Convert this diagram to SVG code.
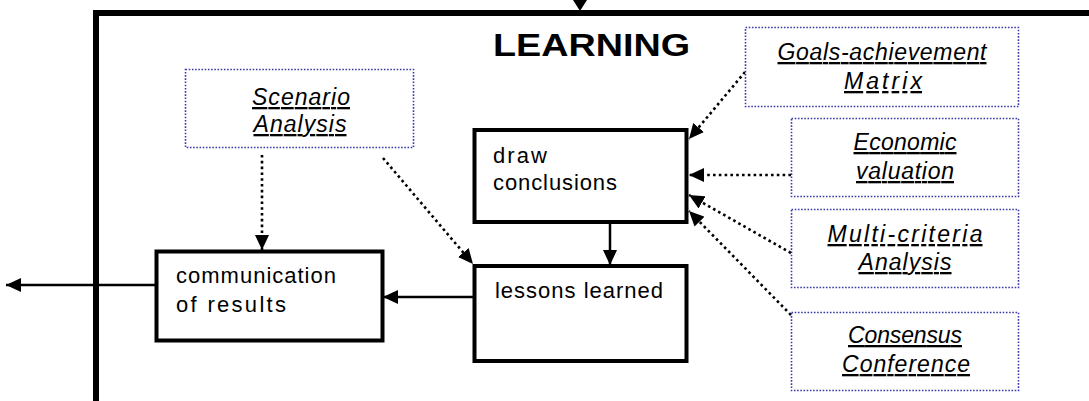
<svg xmlns="http://www.w3.org/2000/svg" width="1089" height="401" viewBox="0 0 1089 401">
<defs>
<style>
.box{fill:#fff;stroke:#000;stroke-width:4}
.tool{fill:#fff;stroke:#3a3aa8;stroke-width:1.6;stroke-dasharray:1.6 1.6}
.t{font-family:"Comic Sans MS","Liberation Sans",Arial,sans-serif;font-size:22px;fill:#000}
.u{font-family:"Comic Sans MS","Liberation Sans",Arial,sans-serif;font-size:23px;font-style:italic;text-decoration:underline;fill:#000;text-anchor:middle}
.title{font-family:"Comic Sans MS","Liberation Sans",Arial,sans-serif;font-size:32px;font-weight:bold;fill:#000}
.solid{fill:none;stroke:#000;stroke-width:2.5}
.dot{fill:none;stroke:#000;stroke-width:2.6;stroke-dasharray:2.6 3.2}
</style>
<marker id="ah" markerUnits="userSpaceOnUse" markerWidth="16" markerHeight="14" refX="15" refY="7" orient="auto">
<path d="M0,0 L15,7 L0,14 Z" fill="#000"/>
</marker>
</defs>
<g id="frame">
<line x1="93" y1="13" x2="1089" y2="13" stroke="#000" stroke-width="6"/>
<line x1="96" y1="10" x2="96" y2="401" stroke="#000" stroke-width="6"/>
<polygon points="573,0 587,0 580,11" fill="#000"/>
<text class="title" x="493" y="56" textLength="197" lengthAdjust="spacingAndGlyphs">LEARNING</text>
</g>
<g id="connectors">
<line class="solid" x1="156" y1="285" x2="6" y2="285" marker-end="url(#ah)"/>
<line class="solid" x1="474" y1="297" x2="383" y2="297" marker-end="url(#ah)"/>
<line class="solid" x1="610" y1="222" x2="610" y2="265" marker-end="url(#ah)"/>
<line class="dot" x1="262" y1="155" x2="262" y2="250" marker-end="url(#ah)"/>
<line class="dot" x1="383" y1="158" x2="473" y2="264" marker-end="url(#ah)"/>
<line class="dot" x1="745" y1="72" x2="689" y2="139" marker-end="url(#ah)"/>
<line class="dot" x1="791" y1="175" x2="689" y2="175" marker-end="url(#ah)"/>
<line class="dot" x1="791" y1="253" x2="689" y2="195" marker-end="url(#ah)"/>
<line class="dot" x1="791" y1="315" x2="689" y2="211" marker-end="url(#ah)"/>
</g>
<g id="communication">
<rect class="box" x="156.5" y="251.5" width="226" height="89"/>
<text class="t" x="176" y="283" textLength="160" lengthAdjust="spacing">communication</text>
<text class="t" x="176" y="312" textLength="110" lengthAdjust="spacing">of results</text>
</g>
<g id="lessons">
<rect class="box" x="474.5" y="266" width="212" height="95"/>
<text class="t" x="495" y="298" textLength="168" lengthAdjust="spacing">lessons learned</text>
</g>
<g id="draw">
<rect class="box" x="474.5" y="130" width="212" height="92"/>
<text class="t" x="493" y="163" textLength="54" lengthAdjust="spacing">draw</text>
<text class="t" x="493" y="190" textLength="124" lengthAdjust="spacing">conclusions</text>
</g>
<g id="scenario">
<rect class="tool" x="185.5" y="69.5" width="228" height="78"/>
<text class="u" x="301" y="105" textLength="98" lengthAdjust="spacing">Scenario</text>
<text class="u" x="300" y="132" textLength="93" lengthAdjust="spacing">Analysis</text>
</g>
<g id="goals">
<rect class="tool" x="745.5" y="27.5" width="273" height="79"/>
<text class="u" x="882" y="60" textLength="209" lengthAdjust="spacing">Goals-achievement</text>
<text class="u" x="883" y="89" textLength="78" lengthAdjust="spacing">Matrix</text>
</g>
<g id="economic">
<rect class="tool" x="791.5" y="118.5" width="227" height="78"/>
<text class="u" x="905" y="150" textLength="103" lengthAdjust="spacing">Economic</text>
<text class="u" x="905" y="179" textLength="98" lengthAdjust="spacing">valuation</text>
</g>
<g id="multicriteria">
<rect class="tool" x="791.5" y="209.5" width="227" height="78"/>
<text class="u" x="905" y="242" textLength="155" lengthAdjust="spacing">Multi-criteria</text>
<text class="u" x="905" y="270" textLength="93" lengthAdjust="spacing">Analysis</text>
</g>
<g id="consensus">
<rect class="tool" x="791.5" y="312.5" width="227" height="78"/>
<text class="u" x="905" y="343" textLength="114" lengthAdjust="spacing">Consensus</text>
<text class="u" x="906" y="372" textLength="128" lengthAdjust="spacing">Conference</text>
</g>
</svg>
